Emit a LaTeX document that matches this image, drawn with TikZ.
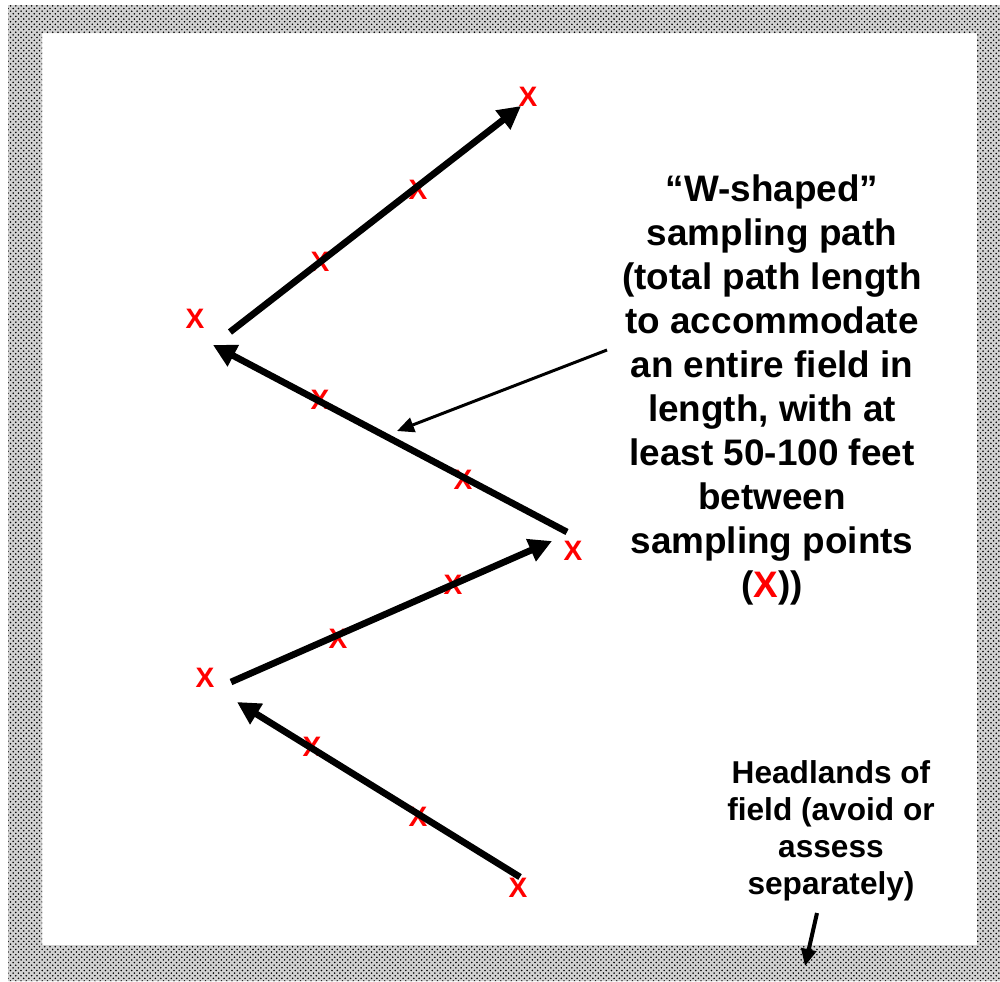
\documentclass[tikz,border=0pt]{standalone}
\usepackage{fontspec}
\setmainfont{Liberation Sans}
\usetikzlibrary{arrows.meta,patterns}
\definecolor{smplred}{RGB}{255,0,0}

\begin{document}
\begin{tikzpicture}[
    x=0.02cm, y=-0.02cm,
    smpl/.style={text=smplred,font=\fontsize{16}{16}\selectfont\bfseries,inner sep=0pt},
    leg/.style={line width=3.8pt,-{Triangle[length=0.46cm,width=0.46cm]}},
    callout/.style={line width=1.7pt,-{Triangle[length=0.34cm,width=0.3cm]}},
    note/.style={align=center,inner sep=0pt,font=\bfseries}
  ]
    \useasboundingbox (0,0) rectangle (1000,981);
    % headlands band round the field
    \fill[gray!35,even odd rule] (8,5) rectangle (1000,981) (42,33) rectangle (977,945);
    \fill[pattern=crosshatch dots,pattern color=black,even odd rule]
      (8,5) rectangle (1000,981) (42,33) rectangle (977,945);

    % sampling points
    \node[smpl] (x1) at (518,888) {X};
    \node[smpl] (x2) at (418,817) {X};
    \node[smpl] (x3) at (312,747) {X};
    \node[smpl] (x4) at (205,678) {X};
    \node[smpl] (x5) at (338,639) {X};
    \node[smpl] (x6) at (453,585) {X};
    \node[smpl] (x7) at (573,551) {X};
    \node[smpl] (x8) at (463,480) {X};
    \node[smpl] (x9) at (320,400) {X};
    \node[smpl] (x10) at (195,319) {X};
    \node[smpl] (x11) at (320,262) {X};
    \node[smpl] (x12) at (418,190) {X};
    \node[smpl] (x13) at (528,97) {X};

    % ends of the legs
    \coordinate (a1) at (520,877);
    \coordinate (b1) at (237,702);
    \coordinate (a2) at (231,682);
    \coordinate (b2) at (552,541);
    \coordinate (a3) at (567,532);
    \coordinate (b3) at (213,345);
    \coordinate (a4) at (230,332);
    \coordinate (b4) at (521,106);
    \draw[leg] (a1) -- (b1);
    \draw[leg] (a2) -- (b2);
    \draw[leg] (a3) -- (b3);
    \draw[leg] (a4) -- (b4);

    % labels
    \node[note,font=\fontsize{21}{25}\selectfont\bfseries] (wpath) at (772,390)
      {“W-shaped”\\sampling path\\(total path length\\to accommodate\\an entire field in\\length, with at\\least 50-100 feet\\between\\sampling points\\(\textcolor{smplred}{X}))};
    \node[note,font=\fontsize{18}{21}\selectfont\bfseries] (head) at (831,831)
      {Headlands of\\field (avoid or\\assess\\separately)};

    \coordinate (c1) at (607,350);
    \coordinate (c2) at (397,431);
    \coordinate (h1) at (817,913);
    \coordinate (h2) at (805,966);
    \draw[callout] (c1) -- (c2);
    \draw[callout,line width=2.3pt] (h1) -- (h2);
  \end{tikzpicture}
\end{document}
